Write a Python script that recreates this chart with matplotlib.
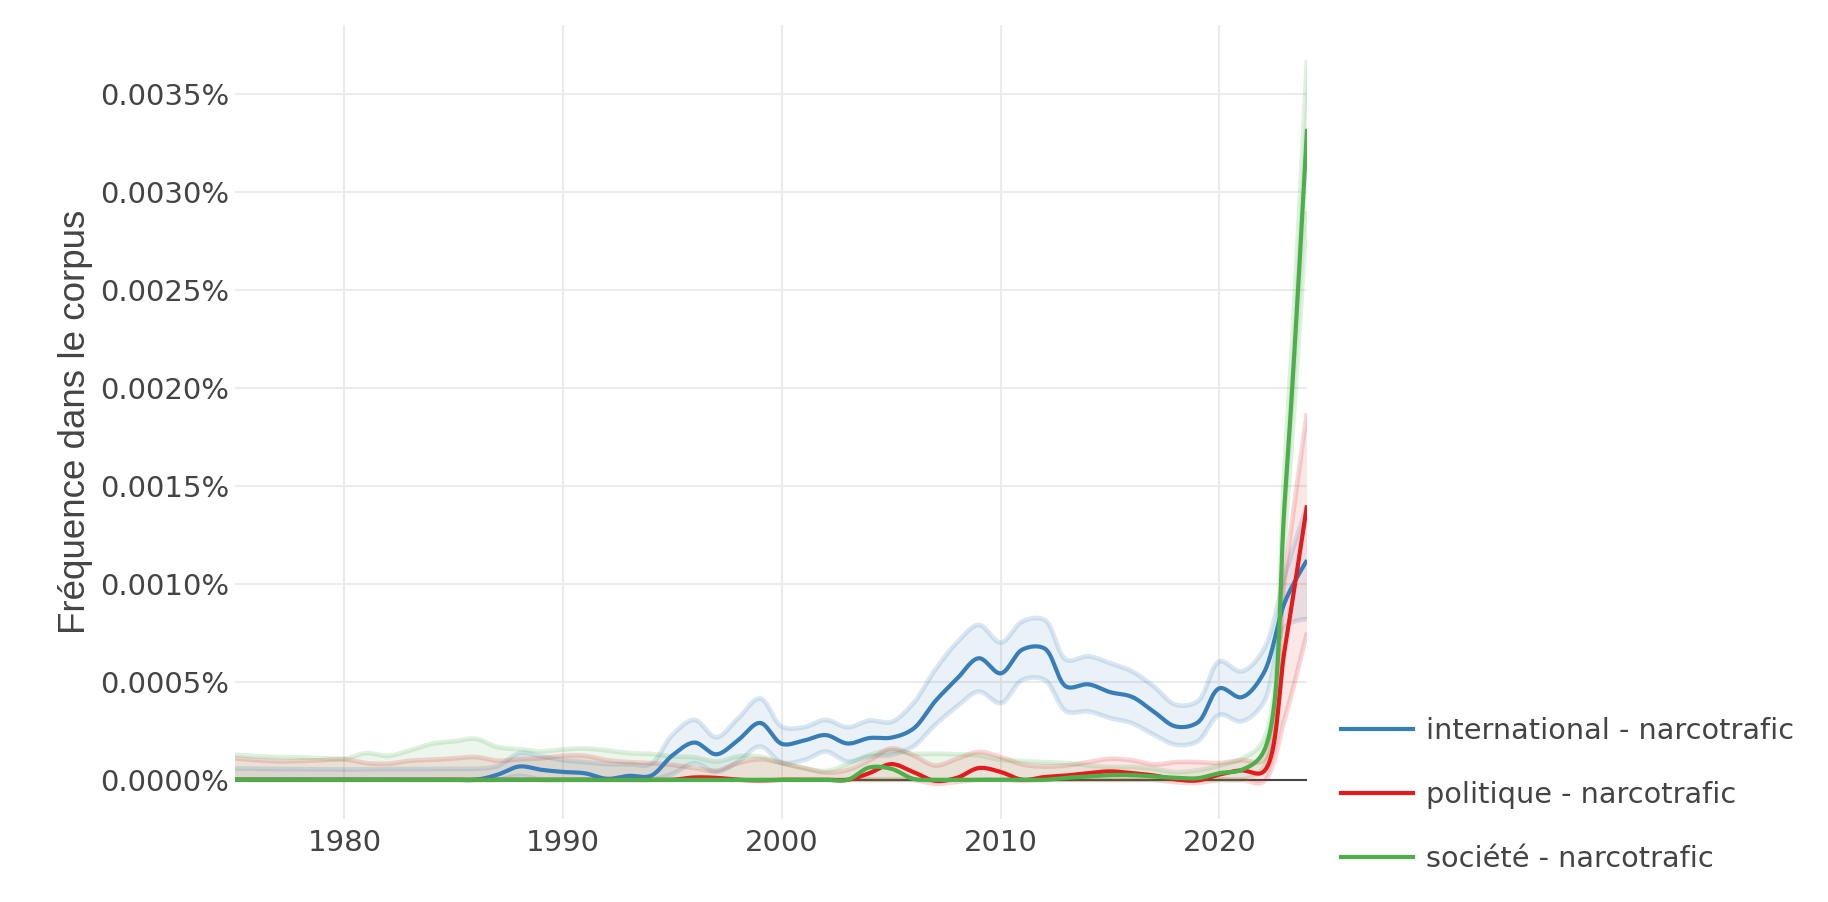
import numpy as np
import matplotlib
matplotlib.use("Agg")
import matplotlib.pyplot as plt
from matplotlib.lines import Line2D

# ---------------- data (values in % of corpus) ----------------
years = list(range(1975, 2025))

intl_mid = [0, 0, 0, 0, 0, 0, 0, 0, 0, 0,
            0, 0, 0.000026, 0.000068, 0.000051, 0.00004, 0.000033, 0.000005, 0.00002, 0.00002,
            0.000125, 0.00019, 0.00013, 0.000203, 0.00029, 0.000183, 0.0002, 0.000228, 0.000185, 0.000213,
            0.000215, 0.00026, 0.0004, 0.000515, 0.00062, 0.000543, 0.000665, 0.00067, 0.000475, 0.000487,
            0.000447, 0.000423, 0.000347, 0.000272, 0.000292, 0.000467, 0.000421, 0.00054, 0.00091, 0.00112]
intl_hi = [0.000058, 0.000056, 0.000055, 0.000054, 0.000053, 0.000052, 0.000054, 0.000055, 0.000055, 0.000055,
           0.000056, 0.000056, 0.00007, 0.000135, 0.00012, 0.0001, 0.00009, 0.00008, 0.00008, 0.00008,
           0.00023, 0.000305, 0.000217, 0.000314, 0.000415, 0.000271, 0.000268, 0.000305, 0.000268, 0.000302,
           0.000295, 0.00039, 0.00056, 0.0007, 0.00079, 0.0007, 0.000808, 0.000816, 0.000612, 0.00063,
           0.000595, 0.000553, 0.000476, 0.000383, 0.0004, 0.000604, 0.000553, 0.00066, 0.00105, 0.0014]
intl_lo = [0, 0, 0, 0, 0, 0, 0, 0, 0, 0,
           0, 0, 0, 0.00002, 0, 0, 0, 0, 0, 0,
           0.00003, 0.000085, 0.00004, 0.000093, 0.00017, 0.000088, 0.0001, 0.000144, 0.000093, 0.000119,
           0.000127, 0.00017, 0.00028, 0.000374, 0.00045, 0.000391, 0.00051, 0.00051, 0.000349, 0.000349,
           0.000315, 0.000289, 0.00023, 0.000179, 0.000196, 0.000332, 0.000298, 0.00039, 0.00078, 0.00082]

poli_mid = [0, 0, 0, 0, 0, 0, 0, 0, 0, 0,
            0, 0, 0, 0, 0, 0, 0, 0, 0, 0,
            0, 0.000012, 0.00001, 0, -0.000003, 0, 0, 0, 0, 0.000034,
            0.00008, 0.00004, -0.000005, 0.00001, 0.00006, 0.00004, 0.0, 0.000014, 0.000022, 0.000034,
            0.000043, 0.000034, 0.000022, 0.000002, -0.000003, 0.000027, 0.000048, 0.00004, 0.00068, 0.0014]
poli_hi = [0.000109, 0.0001, 0.000094, 0.000096, 0.0001, 0.000105, 0.000085, 0.000082, 0.000097, 0.000102,
           0.000109, 0.000116, 0.000097, 0.000105, 0.00011, 0.000122, 0.000122, 0.0001, 0.00009, 0.000085,
           0.000076, 0.00006, 0.000046, 0.000085, 0.000105, 0.000085, 0.00006, 0.000037, 0.00005, 0.0001,
           0.00016, 0.000125, 0.000073, 0.000107, 0.000142, 0.000116, 0.000078, 0.000068, 0.000073, 0.00009,
           0.000107, 0.000099, 0.000078, 0.00009, 0.00009, 0.000085, 0.0001, 0.0001, 0.00105, 0.00187]
poli_lo = [0, 0, 0, 0, 0, 0, 0, 0, 0, 0,
           0, 0, 0, 0, 0, 0, 0, 0, 0, 0,
           0, 0, 0, 0, -0.000005, 0, 0, 0, 0, 0,
           0, 0, -0.00002, -0.00001, 0, 0, -0.000005, 0, 0, 0,
           0, 0, 0, -0.000012, -0.000015, 0, 0, -0.00001, 0.00032, 0.00075]

soc_mid = [0, 0, 0, 0, 0, 0, 0, 0, 0, 0,
           0, 0, 0, 0, 0, 0, 0, 0, 0, 0,
           0, 0, 0, 0, 0, 0, 0, 0, 0, 0.000063,
           0.000056, 0.000005, 0, 0, 0, 0, 0, 0, 0.00001, 0.000017,
           0.000024, 0.000024, 0.000017, 0.00001, 0.000008, 0.000034, 0.00005, 0.00014, 0.00145, 0.00332]
soc_hi = [0.000128, 0.00012, 0.000116, 0.000114, 0.00011, 0.000107, 0.000136, 0.000122, 0.00015, 0.000184,
          0.000196, 0.000209, 0.000167, 0.000156, 0.000145, 0.000155, 0.00016, 0.00015, 0.000136, 0.000132,
          0.000119, 0.000115, 0.000093, 0.000119, 0.000119, 0.000085, 0.00006, 0.000045, 0.00008, 0.000127,
          0.00015, 0.000133, 0.000133, 0.00013, 0.000125, 0.000102, 0.000096, 0.00009, 0.000085, 0.000073,
          0.000065, 0.000065, 0.000056, 0.000039, 0.000048, 0.000073, 0.000107, 0.0002, 0.00165, 0.00367]
soc_lo = [0, 0, 0, 0, 0, 0, 0, 0, 0, 0,
          0, 0, 0, 0, 0, 0, 0, 0, 0, 0,
          0, 0, 0, 0, 0, 0, 0, 0, 0, 0,
          0, 0, 0, 0, 0, 0, 0, 0, 0, 0,
          0, 0, 0, 0, 0, 0, 0, 0.00006, 0.00125, 0.0029]

series_names = ["international - narcotrafic", "politique - narcotrafic", "société - narcotrafic"]
series_colors = ["#377eb8", "#e41a1c", "#4daf4a"]
x_ticks = [1980, 1990, 2000, 2010, 2020]
y_ticks = [0, 0.0005, 0.001, 0.0015, 0.002, 0.0025, 0.003, 0.0035]
y_title = "Fréquence dans le corpus"

# ---------------- figure ----------------
W, H = 1828, 902
fig = plt.figure(figsize=(W / 100, H / 100), dpi=100)
left, right, top, bottom = 235, 1307, 25, 819
ax = fig.add_axes([left / W, 1 - bottom / H, (right - left) / W, (bottom - top) / H])
ax.set_xlim(1975, 2024)
ax.set_ylim(-0.0002, 0.00385)

TXT = "#444444"
for s in ax.spines.values():
    s.set_visible(False)
ax.set_xticks(x_ticks)
ax.set_yticks(y_ticks)
ax.set_yticklabels([f"{v:.4f}%" for v in y_ticks])
ax.tick_params(length=0, labelsize=21, labelcolor=TXT)
ax.tick_params(axis="y", pad=4)
ax.tick_params(axis="x", pad=7)
ax.grid(True, color="#ebebeb", linewidth=1.5, zorder=0)
ax.set_axisbelow(True)
ax.axhline(0, color="#444444", linewidth=1.5, zorder=1)

ax.set_ylabel(y_title, fontsize=26.5, color=TXT, family=["Liberation Sans", "DejaVu Sans"], va="center")
ax.yaxis.set_label_coords((76 - left) / (right - left), 0.5)


def spline(xs, ys):
    """plotly-style spline (smoothing=1) computed in pixel space"""
    T = ax.transData
    P = T.transform(np.column_stack([xs, ys]).astype(float))
    n = len(P)
    tang = []
    for i in range(1, n - 1):
        d1 = P[i - 1] - P[i]
        d2 = P[i + 1] - P[i]
        d1a = np.sqrt(np.hypot(*d1))
        d2a = np.sqrt(np.hypot(*d2))
        num = d2a * d2a * d1 - d1a * d1a * d2
        den1 = 3 * d2a * (d1a + d2a)
        den2 = 3 * d1a * (d1a + d2a)
        c_in = P[i] + (num / den1 if den1 else 0)
        c_out = P[i] - (num / den2 if den2 else 0)
        tang.append((c_in, c_out))
    t = np.linspace(0, 1, 30)[:, None]

    def quad(p0, c, p1):
        return (1 - t) ** 2 * p0 + 2 * (1 - t) * t * c + t ** 2 * p1

    def cub(p0, c1, c2, p1):
        return (1 - t) ** 3 * p0 + 3 * (1 - t) ** 2 * t * c1 + 3 * (1 - t) * t ** 2 * c2 + t ** 3 * p1

    out = [quad(P[0], tang[0][0], P[1])]
    for i in range(2, n - 1):
        out.append(cub(P[i - 1], tang[i - 2][1], tang[i - 1][0], P[i])[1:])
    out.append(quad(P[n - 2], tang[n - 3][1], P[n - 1])[1:])
    pts = T.inverted().transform(np.vstack(out))
    return pts[:, 0], pts[:, 1]


mids = [intl_mid, poli_mid, soc_mid]
his = [intl_hi, poli_hi, soc_hi]
los = [intl_lo, poli_lo, soc_lo]

# bands
for lo, hi, col in zip(los, his, series_colors):
    lx, ly = spline(years, lo)
    hx, hy = spline(years, hi)
    ax.fill(np.concatenate([lx, hx[::-1]]), np.concatenate([ly, hy[::-1]]),
            color=col, alpha=0.1, linewidth=0, zorder=2)
    ax.plot(lx, ly, color=col, alpha=0.18, linewidth=3.4, zorder=2, solid_capstyle="butt")
    ax.plot(hx, hy, color=col, alpha=0.18, linewidth=3.4, zorder=2, solid_capstyle="butt")

# main lines
handles = []
for mid, col, name in zip(mids, series_colors, series_names):
    mx, my = spline(years, mid)
    ax.plot(mx, my, color=col, linewidth=3.0, zorder=3, solid_capstyle="butt")
    handles.append(Line2D([0], [0], color=col, linewidth=3.0))

leg = fig.legend(handles, series_names, loc="center left",
                 bbox_to_anchor=(1341 / W, 1 - 795 / H), frameon=False,
                 fontsize=20.7, handlelength=2.5, handletextpad=0.45,
                 labelspacing=1.25, borderpad=0, borderaxespad=0)
for txt in leg.get_texts():
    txt.set_color(TXT)

fig.savefig("out.png", dpi=100)
